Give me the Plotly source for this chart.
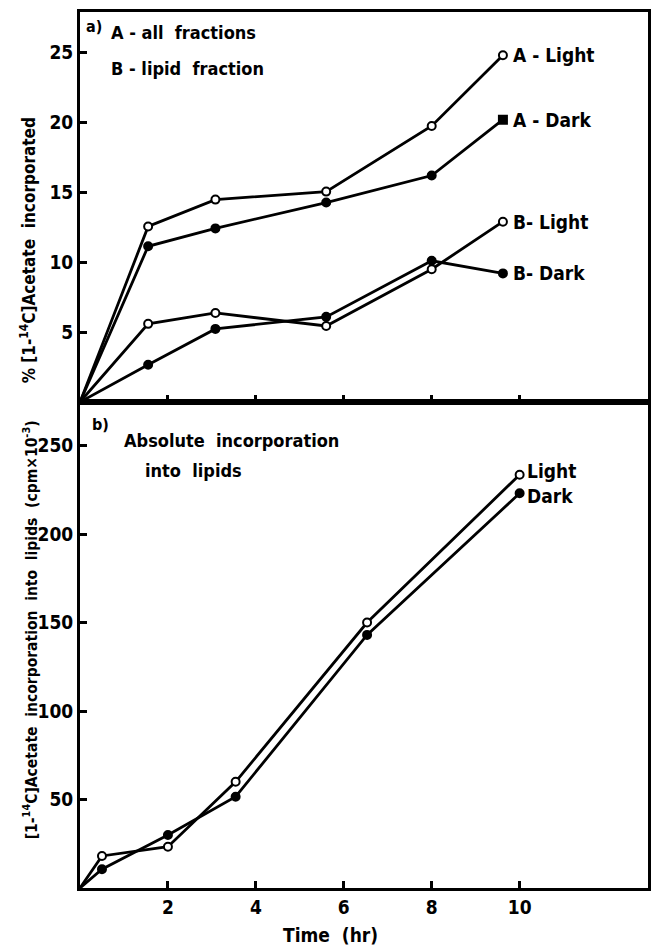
import plotly.graph_objects as go

# ---------------- data ----------------
# Panel a: % [1-14C]Acetate incorporated
time_a = [0, 1.55, 3.08, 5.6, 8.0, 9.62]
a_light = [0, 12.56, 14.48, 15.05, 19.75, 24.8]
a_dark = [0, 11.14, 12.42, 14.27, 16.2, 20.2]
b_light = [0, 5.59, 6.37, 5.44, 9.5, 12.9]
b_dark = [0, 2.67, 5.23, 6.09, 10.1, 9.2]

# Panel b: absolute incorporation into lipids (cpm x 10^-3)
time_b = [0, 0.5, 2.0, 3.54, 6.53, 10.0]
lip_light = [0, 18.1, 23.3, 60.0, 150.0, 233.5]
lip_dark = [0, 10.6, 29.9, 51.6, 143.0, 223.0]

yticks_a = [5, 10, 15, 20, 25]
yticks_b = [50, 100, 150, 200, 250]
xticks = [2, 4, 6, 8, 10]

FONT = "DejaVu Sans Condensed, Liberation Sans Narrow, Roboto Condensed, DejaVu Sans"
BLACK = "black"

fig = go.Figure()


def add_line(x, y, xa, ya, filled, last_symbol=None):
    n = len(x)
    symbols = ["circle"] * n
    if last_symbol:
        symbols[-1] = last_symbol
    fig.add_trace(go.Scatter(
        x=x, y=y, xaxis=xa, yaxis=ya, mode="lines+markers",
        line=dict(color=BLACK, width=2.8),
        marker=dict(size=[0] + [8] * (n - 1), symbol=symbols, opacity=1,
                    color=BLACK if filled else "#ffffff",
                    line=dict(color=BLACK, width=2)),
        showlegend=False, hoverinfo="skip"))


add_line(time_a, a_light, "x", "y", False)
add_line(time_a, a_dark, "x", "y", True, last_symbol="square")
add_line(time_a, b_light, "x", "y", False)
add_line(time_a, b_dark, "x", "y", True)

add_line(time_b, lip_light, "x2", "y2", False)
add_line(time_b, lip_dark, "x2", "y2", True)

split = (888 - 402) / 876.0

axis_common = dict(showline=True, linecolor=BLACK, linewidth=3, mirror=True,
                   showgrid=False, zeroline=False, ticks="inside",
                   ticklen=7, tickwidth=2.5, tickcolor=BLACK)

fig.update_layout(
    width=653, height=947,
    margin=dict(l=80, r=2, t=12, b=59),
    paper_bgcolor="white", plot_bgcolor="white",
    font=dict(family=FONT, size=19, color=BLACK, weight=700),
    xaxis=dict(domain=[0, 1], anchor="y", range=[0, 12.92],
               tickvals=xticks, showticklabels=False, **axis_common),
    yaxis=dict(domain=[split, 1], anchor="x", range=[0, 27.9],
               tickvals=yticks_a, **axis_common),
    xaxis2=dict(domain=[0, 1], anchor="y2", range=[0, 12.92],
                tickvals=xticks, **axis_common),
    yaxis2=dict(domain=[0, split], anchor="x2", range=[0, 274.6],
                tickvals=yticks_b, **axis_common),
)

ann = []
# curve end labels (anchored at the last data point of each curve)
labels_a = [("A - Light", a_light), ("A - Dark", a_dark),
            ("B- Light", b_light), ("B- Dark", b_dark)]
for txt, ys in labels_a:
    ann.append(dict(x=time_a[-1], y=ys[-1], xref="x", yref="y", text=txt,
                    showarrow=False, xanchor="left", yanchor="middle",
                    xshift=8, font=dict(size=19)))
labels_b = [("Light", lip_light, 4), ("Dark", lip_dark, -3)]
for txt, ys, sh in labels_b:
    ann.append(dict(x=time_b[-1], y=ys[-1], xref="x2", yref="y2", text=txt,
                    showarrow=False, xanchor="left", yanchor="middle",
                    xshift=5, yshift=sh, font=dict(size=19)))


def pix(xp, yp):
    # image pixel -> paper coords
    return (xp - 80) / 571.0, 1 - (yp - 12) / 876.0


def add_text(txt, xp, yp, size=18, xanchor="left", angle=0):
    px, py = pix(xp, yp)
    ann.append(dict(x=px, y=py, xref="paper", yref="paper", text=txt,
                    showarrow=False, xanchor=xanchor, yanchor="middle",
                    textangle=angle, font=dict(size=size)))


add_text("a)", 84, 26, size=16)
add_text("A - all  fractions", 109, 33, size=18)
add_text("B - lipid  fraction", 109, 68, size=18)
add_text("b)", 90, 424, size=16)
add_text("Absolute  incorporation", 122, 440, size=18)
add_text("into  lipids", 143, 470, size=18)
add_text("Time  (hr)", 332, 935, size=19, xanchor="center")
add_text("% [1-<sup>14</sup>C]Acetate  incorporated", 28, 250, size=17,
         xanchor="center", angle=-90)
add_text("[1-<sup>14</sup>C]Acetate  incorporation  into  lipids  (cpm×10<sup>-3</sup>)",
         30, 630, size=15.5, xanchor="center", angle=-90)

fig.update_layout(annotations=ann)

fig.write_html("out.html")
